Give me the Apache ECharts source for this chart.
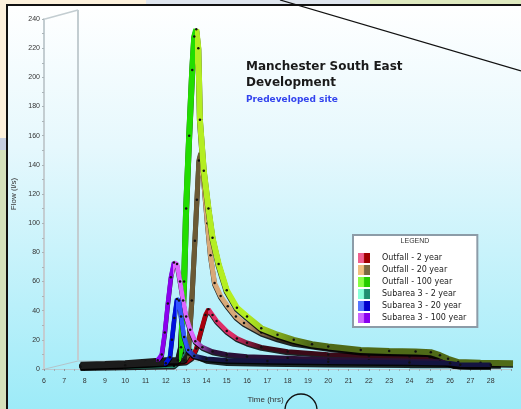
<!DOCTYPE html>
<html>
<head>
<meta charset="utf-8">
<title>Manchester South East Development</title>
<script src="https://cdn.jsdelivr.net/npm/echarts@6/dist/echarts.min.js"></script>
<style>
  html, body { margin: 0; padding: 0; background: #fdf1dc; }
  #flow-chart { width: 521px; height: 409px; }
</style>
</head>
<body>
<div id="flow-chart"></div>
<script>
// series names, as in the legend
const seriesNames = [
  'Outfall - 2 year',
  'Outfall - 20 year',
  'Outfall - 100 year',
  'Subarea 3 - 2 year',
  'Subarea 3 - 20 year',
  'Subarea 3 - 100 year'
]

// [time (hrs), flow (l/s)]
const outfall2yr = [
  [7.8, 2], [9, 2.5], [10, 3], [11, 3.5], [12, 4], [13, 5], [13.3, 8], [13.5, 14],
  [13.75, 27], [13.95, 37], [14.1, 41], [14.3, 37], [14.5, 33], [15, 26], [15.5, 21],
  [16, 18], [16.7, 15], [18, 12], [20, 10], [22, 9], [24, 8.5], [25, 8], [25.7, 5],
  [26.2, 2.5], [27, 2], [28, 2]
]
const outfall20yr = [
  [7.8, 2.5], [9, 3], [10, 3.5], [11, 4], [12, 5], [12.9, 6], [13.1, 10], [13.28, 47],
  [13.43, 88], [13.53, 116], [13.63, 143], [13.72, 148], [13.85, 132], [14.05, 100],
  [14.2, 78], [14.4, 59], [14.7, 50], [15.05, 43], [15.45, 36], [15.85, 31.5],
  [16.7, 25], [17.5, 21], [18.3, 18], [20, 14.5], [21.6, 12], [23, 11.5], [24.9, 11],
  [25.6, 8], [26, 5], [26.5, 3.5], [27.5, 3], [28.5, 3]
]
const outfall100yr = [
  [7.8, 3], [9, 3.5], [10, 4], [11, 5], [12, 6], [12.6, 6], [12.75, 15], [12.9, 60],
  [13.0, 110], [13.15, 160], [13.3, 205], [13.4, 228], [13.5, 233], [13.6, 220],
  [13.68, 171], [13.87, 136], [14.1, 110], [14.3, 90], [14.6, 72], [15.0, 54],
  [15.5, 42], [16.0, 36], [16.7, 28], [17.5, 23.5], [18.3, 20], [19.2, 17], [20, 15.5],
  [21.6, 13], [23, 12.3], [24.3, 12], [25.05, 11.5], [25.5, 9.5], [25.9, 7], [26.4, 4.8],
  [27.5, 4.3], [29.1, 4]
]
const subarea2yr = [
  [7.8, 1], [10, 1.5], [12, 2], [12.4, 2], [12.65, 5], [12.85, 11], [13.05, 16],
  [13.25, 13], [13.5, 9], [14, 6], [15, 4.5], [17, 4], [20, 3.5], [24, 3], [26, 3],
  [26.5, 2], [28, 2]
]
const subarea20yr = [
  [7.8, 1.5], [10, 2.5], [12, 4], [12.2, 8], [12.3, 20], [12.42, 35], [12.55, 48],
  [12.65, 47], [12.75, 36], [12.9, 22], [13.1, 13], [13.4, 9], [14, 7], [15, 6],
  [17, 5.5], [20, 5], [24, 4.5], [26, 4], [26.5, 3], [28, 3]
]
const subarea100yr = [
  [7.8, 2], [9, 2.5], [10, 3], [11, 4], [11.6, 6], [11.8, 10], [11.95, 25], [12.1, 45],
  [12.25, 63], [12.4, 73], [12.55, 72], [12.7, 60], [12.85, 47], [13.0, 36], [13.2, 27],
  [13.45, 19], [13.8, 15], [14.3, 12], [15, 10], [16, 8.5], [18, 7.5], [20, 6.5],
  [22, 6], [24, 5.5], [25.5, 5.2], [26, 3.5], [26.5, 2.5], [28, 2.5]
]

const seriesData = [outfall2yr, outfall20yr, outfall100yr, subarea2yr, subarea20yr, subarea100yr]

// rising face / falling face / tail of each ribbon
const riseColors = ['#a8000e', '#6b5a35', '#22dd00', '#1f8f6e', '#0010dd', '#8a00ee']
const fallColors = ['#dd2f68', '#d8a878', '#b4ee22', '#6fdcbc', '#3355ff', '#dd66ff']
const tailColors = ['#3a0a18', '#2e2618', '#4f6a18', '#1c302c', '#141440', '#2a1038']
const holdHours = [1.2, 2, 2.5, 0.5, 0.5, 1]
const fadeHours = [1.5, 2, 3, 0.8, 0.8, 1]
const iconLight = ['#f06090', '#f0c080', '#88ff44', '#88ffd8', '#5577ff', '#cc66ff']
const iconDark = ['#a00000', '#7a6a40', '#22cc00', '#209070', '#0000cc', '#8800ee']
const lineWidths = [4.5, 5, 6, 4, 4.5, 4.5]
const drawOrder = [3, 0, 1, 2, 5, 4] // later = on top

const fontFamily = "'Liberation Sans', Arial, sans-serif"
const wideFont = "'DejaVu Sans', Verdana, sans-serif"

const ribbonGradient = (data, i) => {
  let peak = data[0]
  data.forEach(p => { if (p[1] > peak[1]) peak = p })
  const t0 = data[0][0]
  const t1 = data[data.length - 1][0]
  const frac = t => Math.min(1, Math.max(0, (t - t0) / (t1 - t0)))
  // start of the rise: last point before the peak under 10% of it
  let riseStart = t0
  data.forEach(p => { if (p[0] < peak[0] && p[1] < peak[1] * 0.1) riseStart = p[0] })
  return new echarts.graphic.LinearGradient(0, 0, 1, 0, [
    { offset: 0, color: '#1c1c1c' },
    { offset: frac(riseStart), color: '#1c1c1c' },
    { offset: frac(riseStart), color: riseColors[i] },
    { offset: frac(peak[0]), color: riseColors[i] },
    { offset: frac(peak[0]), color: fallColors[i] },
    { offset: frac(peak[0] + holdHours[i]), color: fallColors[i] },
    { offset: frac(peak[0] + holdHours[i] + fadeHours[i]), color: tailColors[i] },
    { offset: 1, color: tailColors[i] }
  ])
}

const flowChart = echarts.init(document.getElementById('flow-chart'))

const flowChartOption = {
  animation: false,
  textStyle: { fontFamily: fontFamily },
  title: {
    text: 'Manchester South East\nDevelopment',
    subtext: 'Predeveloped site',
    left: 246,
    top: 59,
    padding: 0,
    itemGap: 4,
    textStyle: { fontSize: 12, fontWeight: 'bold', color: '#1a1a1a', lineHeight: 16, fontFamily: wideFont },
    subtextStyle: { fontSize: 9, fontWeight: 'bold', color: '#3344ee', lineHeight: 10, fontFamily: wideFont }
  },
  legend: {
    orient: 'vertical',
    left: 353,
    top: 235,
    padding: [18, 11, 4, 5],
    itemGap: 2,
    itemWidth: 12,
    itemHeight: 10,
    backgroundColor: '#ffffff',
    borderColor: '#8c9ca8',
    borderWidth: 2,
    borderRadius: 0,
    selectedMode: false,
    textStyle: { fontSize: 8, color: '#222', lineHeight: 10, padding: [0, 0, 0, 7], fontFamily: wideFont },
    data: seriesNames.map((name, i) => ({
      name: name,
      icon: 'rect',
      itemStyle: {
        color: new echarts.graphic.LinearGradient(0, 0, 1, 0, [
          { offset: 0, color: iconLight[i] },
          { offset: 0.45, color: iconLight[i] },
          { offset: 0.55, color: iconDark[i] },
          { offset: 1, color: iconDark[i] }
        ]),
        borderWidth: 0
      }
    }))
  },
  grid: { left: 44, right: 10, top: 19, bottom: 40 },
  xAxis: {
    type: 'value',
    min: 6,
    max: 29,
    interval: 1,
    name: 'Time (hrs)',
    nameLocation: 'middle',
    nameGap: 27,
    nameTextStyle: { fontSize: 8, color: '#333', padding: [0, 24, 0, 0] },
    axisLine: { lineStyle: { color: '#b9c9cf', width: 1 } },
    axisTick: { show: true, length: 2, lineStyle: { color: '#8899a0' } },
    minorTick: { show: true, splitNumber: 2, length: 2, lineStyle: { color: '#a0b0b8' } },
    axisLabel: {
      fontSize: 7,
      color: '#333',
      margin: 9,
      formatter: v => (v > 28 ? '' : String(v))
    },
    splitLine: { show: false }
  },
  yAxis: {
    type: 'value',
    min: 0,
    max: 240,
    interval: 20,
    name: 'Flow (l/s)',
    nameLocation: 'middle',
    nameGap: 26,
    nameTextStyle: { fontSize: 8, color: '#333' },
    axisLine: { show: true, lineStyle: { color: '#c3cdd1', width: 2 } },
    axisTick: { show: true, length: 2, lineStyle: { color: '#aab4b8' } },
    minorTick: { show: true, splitNumber: 2, length: 2, lineStyle: { color: '#aab4b8' } },
    axisLabel: { fontSize: 7, color: '#333', margin: 4 },
    splitLine: { show: false }
  },
  graphic: [
    // surrounding screenshot
    { type: 'rect', z: -100, shape: { x: 0, y: 0, width: 521, height: 409 }, style: { fill: '#fdf1dc' } },
    { type: 'rect', z: -99, shape: { x: 0, y: 150, width: 7, height: 259 }, style: { fill: '#d5e1bb' } },
    { type: 'rect', z: -99, shape: { x: 0, y: 138, width: 7, height: 12 }, style: { fill: '#c6cedf' } },
    { type: 'rect', z: -99, shape: { x: 146, y: 0, width: 224, height: 5 }, style: { fill: '#dfe5ee' } },
    { type: 'rect', z: -99, shape: { x: 370, y: 0, width: 151, height: 5 }, style: { fill: '#dfeac0' } },
    // chart panel
    {
      type: 'rect', z: -90,
      shape: { x: 7, y: 5, width: 514, height: 404 },
      style: {
        fill: new echarts.graphic.LinearGradient(0, 0, 0, 1, [
          { offset: 0, color: '#ffffff' },
          { offset: 0.35, color: '#e6f8fd' },
          { offset: 1, color: '#9debf8' }
        ])
      }
    },
    { type: 'line', z: 50, shape: { x1: 6, y1: 5, x2: 521, y2: 5 }, style: { stroke: '#111', lineWidth: 2 } },
    { type: 'line', z: 50, shape: { x1: 7, y1: 4, x2: 7, y2: 409 }, style: { stroke: '#111', lineWidth: 2 } },
    // 3D back wall of the plot
    { type: 'line', z: -80, shape: { x1: 45, y1: 19, x2: 78, y2: 10 }, style: { stroke: '#c3cdd1', lineWidth: 1.5 } },
    { type: 'line', z: -80, shape: { x1: 78, y1: 10, x2: 78, y2: 360 }, style: { stroke: '#c3cdd1', lineWidth: 2 } },
    { type: 'line', z: -80, shape: { x1: 45, y1: 369, x2: 78, y2: 361 }, style: { stroke: '#b4c4ca', lineWidth: 1 } },
    { type: 'line', z: -80, shape: { x1: 78, y1: 361, x2: 511, y2: 361 }, style: { stroke: '#b4c8ce', lineWidth: 1 } },
    // legend header
    {
      type: 'text', z: 60, x: 415, y: 241,
      style: { text: 'LEGEND', fontSize: 7, fill: '#333', align: 'center', verticalAlign: 'middle', fontFamily: fontFamily }
    },
    // overlays from the screenshot
    { type: 'line', z: 100, shape: { x1: 280, y1: 0, x2: 521, y2: 71 }, style: { stroke: '#111', lineWidth: 1.3 } },
    { type: 'circle', z: 100, shape: { cx: 301, cy: 410, r: 16 }, style: { stroke: '#111', lineWidth: 1.3, fill: null } }
  ],
  series: drawOrder.map((i, k) => ({
    name: seriesNames[i],
    type: 'line',
    z: 2 + k,
    data: seriesData[i],
    smooth: false,
    showAllSymbol: true,
    symbol: 'circle',
    symbolSize: 2.5,
    itemStyle: { color: '#111' },
    lineStyle: {
      width: lineWidths[i],
      color: ribbonGradient(seriesData[i], i),
      shadowColor: 'rgba(0,0,0,0.85)',
      shadowBlur: 0,
      shadowOffsetY: 1.5
    },
    emphasis: { disabled: true }
  }))
}

flowChart.setOption(flowChartOption)
</script>
</body>
</html>
